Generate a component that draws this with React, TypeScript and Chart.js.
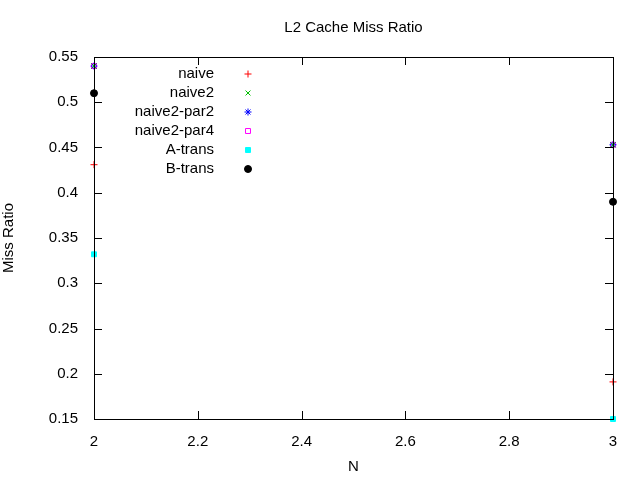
import {useEffect, useRef} from 'react';
import {Chart, registerables} from 'chart.js';
import {drawPoint} from 'chart.js/helpers';

Chart.register(...registerables);

const seriesNames = ["naive", "naive2", "naive2-par2", "naive2-par4", "A-trans", "B-trans"];
const nValues = [2, 3];
const naive = [0.431, 0.191];
const naive2 = [0.54, 0.453];
const naive2par2 = [0.54, 0.453];
const naive2par4 = [0.54, 0.453];
const aTrans = [0.332, 0.15];
const bTrans = [0.51, 0.39];

const colors = ["#ff0000", "#00c000", "#0000ff", "#ff00ff", "#00ffff", "#000000"];
const styles = ["cross", "crossRot", "star", "rect", "rect", "circle"];
const filled = [false, false, false, false, true, true];
const values = [naive, naive2, naive2par2, naive2par4, aTrans, bTrans];

const FONT = "'Liberation Sans', Arial, sans-serif";

const gnuplotLook = {
    id: "gnuplotLook",
    afterDraw(chart: any) {
        const ctx = chart.ctx;
        const a = chart.chartArea;
        const xs = chart.scales.x;
        const ys = chart.scales.y;
        ctx.save();
        ctx.strokeStyle = "#000";
        ctx.lineWidth = 1;
        ctx.beginPath();
        xs.ticks.forEach((t: any) => {
            const px = Math.round(xs.getPixelForValue(t.value)) + 0.5;
            ctx.moveTo(px, a.bottom); ctx.lineTo(px, a.bottom - 8);
            ctx.moveTo(px, a.top); ctx.lineTo(px, a.top + 8);
        });
        ys.ticks.forEach((t: any) => {
            const py = Math.round(ys.getPixelForValue(t.value)) + 0.5;
            ctx.moveTo(a.left, py); ctx.lineTo(a.left + 8, py);
            ctx.moveTo(a.right, py); ctx.lineTo(a.right - 8, py);
        });
        ctx.stroke();
        ctx.strokeRect(a.left + 0.5, a.top + 0.5, a.right - a.left, a.bottom - a.top);
        ctx.fillStyle = "#000";
        ctx.font = "15px " + FONT;
        ctx.textAlign = "center";
        ctx.textBaseline = "middle";
        ctx.fillText("L2 Cache Miss Ratio", (a.left + a.right) / 2, 28);
        // legend
        ctx.textAlign = "right";
        seriesNames.forEach((name, i) => {
            const y = 74 + i * 19;
            ctx.fillStyle = "#000";
            ctx.fillText(name, 214, y);
            ctx.strokeStyle = colors[i];
            ctx.fillStyle = filled[i] ? colors[i] : "rgba(0,0,0,0)";
            ctx.lineWidth = 1;
            drawPoint(ctx, {pointStyle: styles[i], radius: 3.5, rotation: 0, borderWidth: 1} as any, 248, y);
        });
        ctx.restore();
    },
};

const App = () => {
    const canvasRef = useRef<HTMLCanvasElement | null>(null);
    const chartRef = useRef<Chart | null>(null);

    useEffect(() => {
        document.body.style.margin = "0";
        const ctx = canvasRef.current?.getContext("2d");
        chartRef.current = new Chart(ctx as any, {
            type: "scatter",
            data: {
                datasets: seriesNames.map((name, i) => ({
                    label: name,
                    data: nValues.map((n, j) => ({x: n, y: values[i][j]})),
                    pointStyle: styles[i],
                    pointRadius: 3.5,
                    borderColor: colors[i],
                    backgroundColor: filled[i] ? colors[i] : "rgba(0,0,0,0)",
                    borderWidth: 1,
                    clip: false,
                })),
            },
            options: {
                responsive: false,
                animation: false,
                layout: {padding: {top: 57, right: 27}},
                plugins: {legend: {display: false}, tooltip: {enabled: false}},
                scales: {
                    x: {
                        type: "linear", min: 2, max: 3,
                        ticks: {stepSize: 0.2, color: "#000", font: {size: 15, family: FONT}, padding: 6,
                            callback: (v: any) => String(Number(Number(v).toFixed(2)))},
                        grid: {display: false},
                        border: {color: "#000"},
                        title: {display: true, text: "N", color: "#000", font: {size: 15, family: FONT}, padding: {top: 10}},
                        afterFit: (s: any) => { s.height = 61; },
                    },
                    y: {
                        min: 0.15, max: 0.55,
                        ticks: {stepSize: 0.05, color: "#000", font: {size: 15, family: FONT}, padding: 8,
                            callback: (v: any) => String(Number(Number(v).toFixed(2)))},
                        grid: {display: false},
                        border: {color: "#000"},
                        title: {display: true, text: "Miss Ratio", color: "#000", font: {size: 15, family: FONT}, padding: {top: 0, bottom: 0}},
                        afterFit: (s: any) => { s.width = 94; },
                    },
                },
            },
            plugins: [gnuplotLook],
        });
        return () => chartRef.current?.destroy();
    }, []);

    return (
        <div style={{position: "absolute", left: 0, top: 0, width: 640, height: 480, background: "#fff"}}>
            <canvas ref={canvasRef} width={640} height={480} />
        </div>
    );
};

export default App;
